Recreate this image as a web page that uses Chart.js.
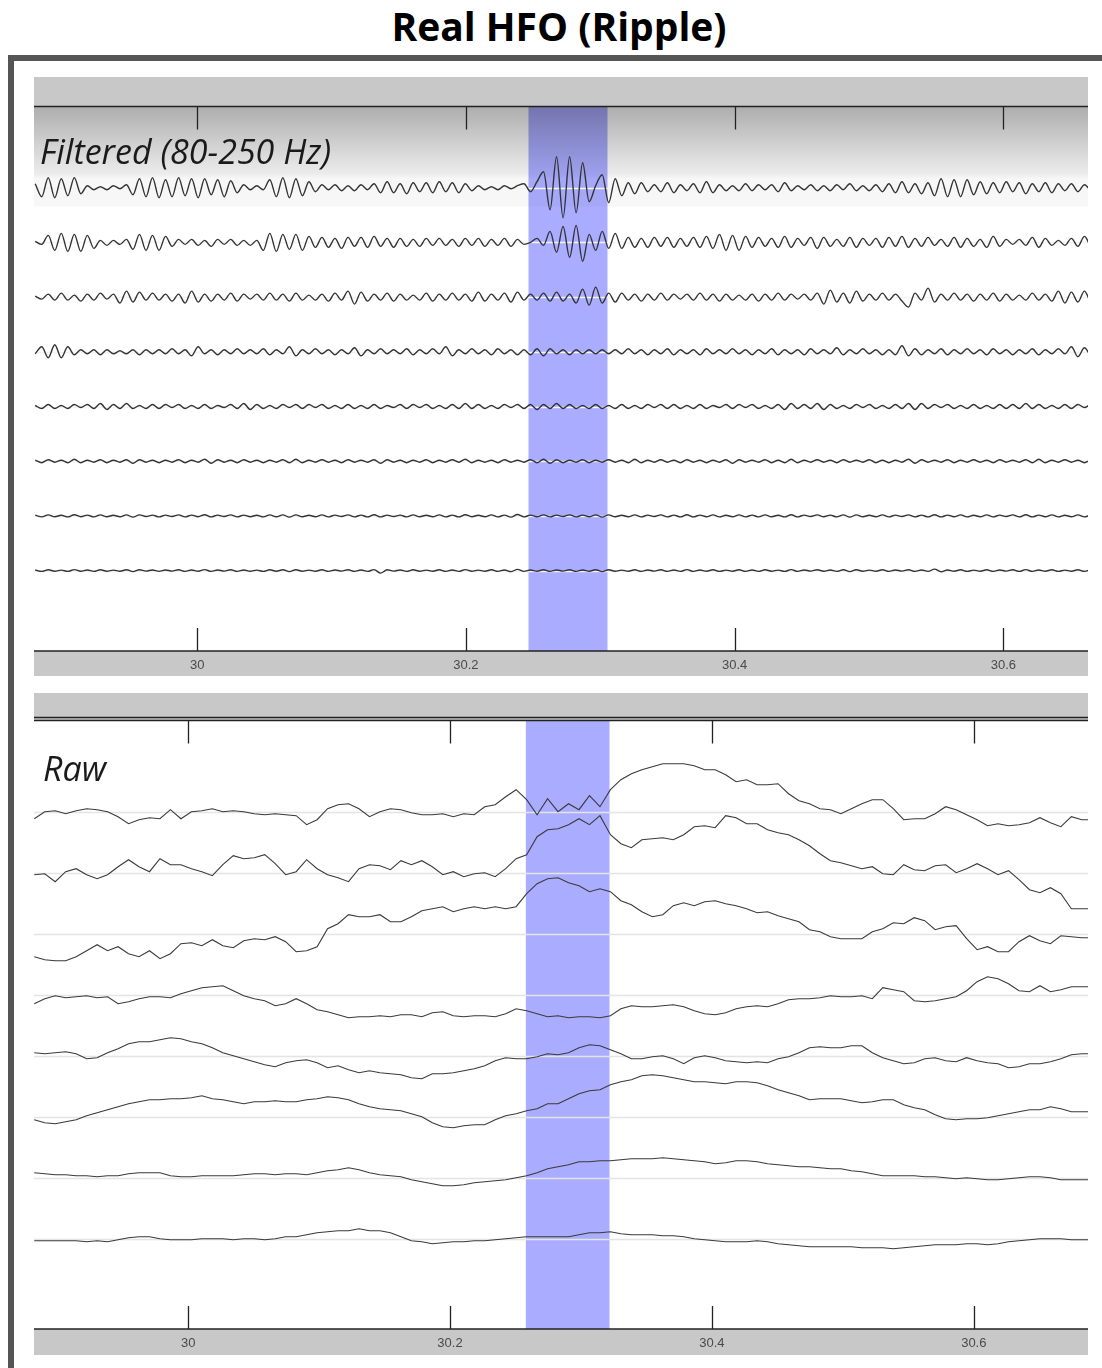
<!DOCTYPE html>
<html>
<head>
<meta charset="utf-8">
<title>Real HFO (Ripple)</title>
<script src="https://cdn.jsdelivr.net/npm/chart.js@4.4.1/dist/chart.umd.min.js"></script>
<style>
  html, body { margin: 0; padding: 0; background: #fff; }
  body { width: 1102px; height: 1368px; position: relative; overflow: hidden; font-family: 'Open Sans', 'Noto Sans', sans-serif; }
  #title { position: absolute; left: 0; top: -1px; width: 1118px; text-align: center; font-weight: 700; font-size: 39px; line-height: 54px; color: #000; }
  #frame { position: absolute; left: 8px; top: 55px; width: 1200px; height: 1400px; border-left: 6px solid #555; border-top: 6px solid #555; }
  canvas { position: absolute; left: 34px; }
  #filteredChart { top: 77px; }
  #rawChart { top: 693px; }
</style>
</head>
<body>
<div id="title">Real HFO (Ripple)</div>
<div id="frame"></div>
<canvas id="filteredChart" width="1054" height="600"></canvas>
<canvas id="rawChart" width="1054" height="663"></canvas>
<script>
// time axis (s)
const xTicks = [30, 30.2, 30.4, 30.6];
const filteredRange = [29.8786, 30.6630];
const rawRange = [29.8823, 30.6872];
const hfoBandFiltered = [30.2466, 30.3054];
const hfoBandRaw = [30.2579, 30.3218];

// filtered 80-250 Hz, one value per half wave
const F_T0 = 29.8795, F_DT = 0.00485;
const filtered1 = [
  4,-9,10,-10,9,-8,10,-6,2,-2, 1,-2,2,-1,3,-7,9,-9,10,-10, 8,-9,10,-8,9,-10,9,-7,8,-9,
  7,-5,3,-2,2,-2,8,-9,10,-10, 9,-8,6,-4,3,-2,3,-3,2,-3, 3,-2,4,-5,6,-5,4,-6,5,-4,
  5,-5,6,-4,5,-5,4,-3,2,-2, 1,-2,2,-1,2,4,-4,6,16,-22, 31,-30,31,-25,25,-14,2,13,-15,9,
  -8,5,-6,5,-4,3,-4,5,-5,3, -3,4,-5,6,-5,3,-3,2,-3,4, -3,3,-2,3,-4,5,-3,2,-2,3,
  -3,2,-3,3,-2,4,-3,2,-3,3, -4,4,-5,6,-5,4,-6,5,-8,9, -9,8,-9,8,-7,6,-6,5,-5,6,
  -4,5,-6,4,-4,5,-5,4,-3,4, -4,3,-2,8
];
const filtered2 = [
  1,-2,7,-8,9,-9,8,-9,7,-6, 2,-3,2,-2,3,-7,8,-8,7,-8, 6,-4,3,-2,3,-3,2,-4,3,-2,
  3,-3,2,-3,2,-8,9,-9,8,-7, 8,-8,6,-5,5,-5,4,-6,5,-4, 5,-5,6,-4,4,-5,4,-4,3,-4,
  4,-3,4,-3,3,-4,4,-3,4,-4, 3,-3,4,-4,3,-2,0,4,-3,11, -10,16,-15,17,-19,8,-8,11,-6,9,
  -6,5,-5,4,-5,5,-4,5,-5,4, -4,5,-5,6,-6,8,-8,7,-8,6, -5,5,-4,4,-5,6,-5,4,-3,5,
  -6,5,-4,3,-4,5,-5,4,-3,4, -5,5,-4,6,-5,4,-4,5,-3,3, -4,5,-5,4,-4,3,-5,6,-4,3,
  -2,3,-3,5,-5,4,-3,2,-3,4, -4,6,-5,-12
];
const filtered3 = [
  1,-2,3,-3,4,-3,2,-4,3,-3,4,-2,3,
  -6,6,-5,5,-3,
  4,-3,3,-4,3,
  -6,6,-5,3,
  -4,3,-3,4,-4,3,-2,3,-3,4,-3,3,-4,4,-3,2,-3,3,-4,4,-3,
  6,-7,5,-4,
  3,-3,4,-4,3,-3,2,-3,4,-4,3,-3,4,-3,3,-4,5,-4,3,-3,4,-5,5,-3,
  3,-3,4,-4,5,-4,3,-6,8,-8,10,-6,4,
  -5,4,-3,3,-4,3,-3,4,-3,3,-2,3,-3,4,-3,3,-4,3,-3,2,-3,3,-4,3,-3,4,-3,3,-2,3,-3,4,
  -7,7,-5,4,-6,6,-4,
  3,-3,4,-3,3,-4,
  -10,4,-3,9,-5,
  3,-3,4,-3,3,-4,3,-3,4,-4,3,-3,2,-3,4,-3,3,-4,
  6,-6,5,-5,6,-4,4
];
const filtered4 = [
  -2,5,-6,7,-6,5,-3,
  2,-2,2,-3,2,-2,1,-2,2,-3,2,-2,2,-2,3,-2,2,
  -4,5,
  -2,2,-3,2,-2,3,-2,2,-2,3,-3,2,-2,
  5,-4,
  2,-2,3,-2,2,-3,2,-2,4,-4,2,-2,3,-2,2,
  -2,3,-3,2,-2,3,-2,
  5,-4,
  2,-2,3,-2,2,-3,3,-2,2,-3,2,
  -3,3,-4,3,-2,2,-3,2,-2,2,-2,2,-2,
  2,-2,3,-2,2,-3,2,-2,3,-3,2,-2,2,-3,3,-2,2,-2,3,-2,2,-3,2,-2,3,-3,2,-2,2,-3,3,-2,2,-2,4,-3,2,-2,3,-2,2,-3,2,
  -3,6,-4,
  3,-3,2,-2,3,-3,2,-2,3,-2,2,-3,3,-2,2,-3,2,-2,3,-3,2,-2,3,-2,
  5,-5,4,-3,3
];
const filtered5 = [
  1,-2,2,-2,1,-2,2,-1,2,-2, 3,-3,2,-2,3,-2,1,-2,2,-2, 2,-1,2,-2,1,-2,2,-2,1,-1,
  2,-2,3,-3,2,-2,1,-2,2,-1, 2,-2,2,-1,2,-2,1,-2,2,-2, 1,-2,2,-2,1,-1,2,-2,2,-1,
  2,-2,1,-2,2,-2,3,-2,2,-2, 1,-2,2,-1,2,-2,2,-3,2,-2, 3,-2,2,-2,1,-2,2,-2,1,-2,
  2,-2,1,-2,2,-1,2,-2,2,-2, 1,-2,2,-2,1,-1,2,-2,2,-1, 2,-2,1,-2,2,-3,3,-2,2,-2,
  3,-3,2,-2,1,-2,2,-1,2,-2, 1,-2,2,-2,3,-3,3,-2,2,-1, 2,-2,1,-2,2,-2,1,-2,2,-2,
  2,-2,3,-2,2,-2,1,-2,2,-2, 2,-1,2,-2,2
];
const filtered6 = [
  1,-1.5,1.5,-1,1,-1.5,2,-1.5,1,-1, 1.5,-1.5,1,-1,1.5,-2,1.5,-1,1,-1.5,
  1,-1,1.5,-1.5,1,-1,2,-2,1.5,-1, 1,-1.5,1.5,-1,1,-1.5,1,-1,1.5,-1.5,
  2,-1.5,1,-1,1.5,-1,1,-1.5,1.5,-1, 1,-1,1.5,-2,1.5,-1,1,-1.5,1,-1,
  1.5,-1.5,1,-1,1.5,-1,2,-1.5,1,-1, 1,-1.5,1.5,-1,1,-1,1.5,-1.5,2,-2,
  1.5,-1.5,1,-1,1.5,-1.5,1,-1,1.5,-1, 1,-1.5,2,-1.5,1,-1,1.5,-1,1,-1.5,
  1.5,-1,1,-1.5,1,-1,1.5,-2,1.5,-1, 1,-1,1.5,-1.5,1,-1.5,2,-1.5,1,-1,
  1.5,-1,1,-1.5,1.5,-1,1,-1,1.5,-1.5, 1,-1.5,1,-1,2,-2,1.5,-1,1,-1,
  1.5,-1.5,1,-1,1.5,-1,1,-1.5,1.5,-1, 1,-1,1.5,-1.5,2,-1.5,1,-1,1.5,-1,
  1,-1.5,1,-1,1.5
];
const filtered7 = [
  0.8,-1,1,-0.8,0.6,-1,1.2,-0.8,0.8,-1, 1,-0.8,0.6,-0.8,1,-1.2,1,-0.6,0.8,-1,
  0.8,-0.6,1,-1,0.8,-0.8,1.2,-1,0.8,-0.6, 1,-1,0.8,-0.8,0.6,-1,1,-0.8,1,-1.2,
  1,-0.8,0.6,-0.8,1,-1,0.8,-0.6,1,-1, 0.8,-1,1.2,-1,0.8,-0.6,0.8,-1,1,-0.8,
  0.6,-0.8,1,-1,0.8,-1,1.2,-0.8,0.6,-0.8, 1,-1,0.8,-1.2,1.4,-1,0.8,-0.8,1,-1,
  0.8,-0.6,1,-1,0.8,-0.8,1,-1.2,1,-0.8, 0.6,-0.8,1,-1,0.8,-0.6,1,-1,0.8,-1,
  1.2,-1,0.8,-0.8,1,-1,0.6,-0.8,1,-1, 0.8,-1,1,-0.8,0.6,-1,1.2,-1,0.8,-0.6,
  1,-0.8,0.8,-1,1,-1.2,1,-0.8,0.6,-0.8, 1,-1,0.8,-0.6,1,-1,0.8,-1,1.2,-1,
  0.8,-0.8,1,-1,0.6,-0.8,1,-1,0.8,-0.6, 1,-1,1.2,-1,0.8,-0.8,1,-1,0.6,-0.8,
  1,-1,0.8,-0.8,1
];
const filtered8 = [
  0.6,-0.8,0.8,-0.6,0.5,-0.8,1,-0.6,0.6,-0.8, 0.8,-0.6,0.5,-0.6,0.8,-1,0.8,-0.5,0.6,-0.8,
  0.6,-0.5,0.8,-0.8,0.6,-0.6,1,-0.8,0.6,-0.5, 0.8,-0.8,0.6,-0.6,0.5,-0.8,0.8,-0.6,0.8,-1,
  0.8,-0.6,0.5,-0.6,0.8,-0.8,0.6,-0.5,0.8,-0.8, 0.6,-0.8,1,-2.5,0.8,-0.5,0.6,-0.8,0.8,-0.6,
  0.5,-0.6,0.8,-0.8,0.6,-0.8,1,-0.6,0.5,-0.6, 0.8,-0.8,0.6,-1,1.2,-0.8,0.6,-0.6,0.8,-0.8,
  0.6,-0.5,0.8,-0.8,0.6,-0.6,0.8,-1,0.8,-0.6, 0.5,-0.6,0.8,-0.8,0.6,-0.5,0.8,-0.8,0.6,-0.8,
  1,-0.8,0.6,-0.6,0.8,-0.8,0.5,-0.6,0.8,-0.8, 0.6,-0.8,0.8,-0.6,0.5,-0.8,1,-0.8,0.6,-0.5,
  0.8,-0.6,0.6,-0.8,0.8,-1,0.8,-0.6,0.5,-0.6, 0.8,-0.8,0.6,-0.5,0.8,-0.8,0.6,-0.8,1.5,-1.2,
  0.6,-0.6,0.8,-0.8,0.5,-0.6,0.8,-0.8,0.6,-0.5, 0.8,-0.8,1,-0.8,0.6,-0.6,0.8,-0.8,0.5,-0.6,
  0.8,-0.8,0.6,-0.6,0.8
];

// raw signal, sampled every 8 ms
const R_T0 = 29.8825, R_DT = 0.008;
const raw1 = [-7,0,1,-2,1,3,2,0,-5,-12, -8,-6,-7,2,-7,0,1,3,0,1, 0,-2,-3,-2,-3,-4,-13,-8,3,7,
  8,3,-5,0,3,2,-1,-3,-3,-2, -5,-2,-3,5,7,15,22,12,-3,13, 0,8,2,16,5,22,32,38,42,45,
  48,48,48,46,42,42,37,30,32,27, 27,28,18,11,8,3,2,-2,3,8, 12,12,3,-8,-7,-7,-2,5,2,-3,
  -8,-14,-12,-14,-13,-11,-6,-11,-15,-5, -8,-8];
const raw2 = [-2,-1,-9,1,4,-2,-6,-2,6,13, 6,1,14,8,8,4,1,-3,8,17, 14,15,18,9,-2,1,13,4,-2,-5,
  -9,4,8,7,3,12,8,12,6,-2, 1,-4,-1,0,-4,4,14,18,36,43, 44,48,54,48,57,38,29,25,33,34,
  35,33,38,46,47,45,57,55,49,49, 43,40,38,33,27,19,12,10,7,4, 6,-1,-2,8,3,2,7,8,0,4,
  9,4,-2,2,-7,-17,-20,-15,-21,-36, -36,-36];
const raw3 = [-23,-26,-27,-27,-23,-17,-11,-17,-13,-20, -23,-17,-25,-20,-10,-9,-12,-6,-12,-14, -7,-5,-6,-3,-8,-18,-17,-13,5,10,
  19,17,17,19,12,12,17,23,25,27, 22,25,27,25,27,25,27,40,50,55, 56,51,48,42,45,42,33,29,22,17,
  19,28,31,28,32,33,30,28,25,21, 22,18,15,12,4,2,-3,-5,-5,-5, 2,5,11,10,16,13,4,7,8,-5,
  -16,-13,-18,-18,-8,-2,-7,-10,-2,-3, -4,-4];
const raw4 = [-9,-4,-1,-3,-2,-1,-3,-2,-9,-7, -4,-2,-2,-3,1,4,7,8,9,4, -1,-4,-6,-11,-9,-4,-9,-15,-17,-20,
  -23,-22,-22,-21,-22,-20,-20,-22,-18,-17, -21,-22,-21,-21,-22,-19,-14,-16,-19,-22, -21,-23,-22,-22,-23,-21,-14,-11,-12,-12,
  -11,-10,-12,-16,-19,-20,-18,-14,-12,-11, -12,-9,-5,-4,-4,-3,-1,-2,-2,-1, -4,7,5,3,-6,-7,-6,-4,-2,4,
  13,18,16,11,4,3,9,3,5,8, 8,8];
const raw5 = [3,2,3,4,2,-3,-2,3,7,12, 14,14,16,18,17,14,12,8,3,0, -3,-6,-9,-11,-7,-5,-4,-7,-12,-10,
  -14,-17,-15,-17,-18,-19,-22,-23,-18,-18, -17,-15,-13,-10,-5,-2,-3,-3,-1,2, 1,3,8,11,10,6,2,-3,-3,-1,
  0,-3,-8,-2,0,-2,-5,-6,-7,-6, -7,-3,-1,3,8,9,8,8,10,10, 3,-2,-5,-8,-7,-3,-2,-5,-6,-2,
  -5,-7,-8,-12,-11,-8,-8,-6,-3,1, 2,2];
const raw6 = [-3,-6,-7,-5,-3,1,4,7,10,13, 15,17,17,18,18,19,21,18,17,15, 13,15,15,16,15,15,17,18,20,19,
  17,13,10,8,7,6,3,0,-6,-10, -11,-9,-8,-8,-3,1,3,6,8,13, 13,18,23,26,27,32,35,37,41,42,
  41,39,37,35,35,34,33,35,35,34, 31,27,24,21,17,18,18,18,16,14, 15,17,17,12,9,7,2,-2,-3,-2,
  -2,-1,1,3,5,7,7,10,8,5, 5,5];
const raw7 = [5,4,3,3,2,2,1,2,2,4, 5,5,5,2,1,1,2,2,2,2, 3,4,4,3,4,4,3,5,7,8,
  10,8,5,3,2,1,-2,-4,-6,-8, -8,-7,-5,-4,-3,-2,0,2,5,9, 11,13,16,16,17,17,18,19,19,19,
  20,19,18,17,16,14,15,17,17,16, 14,13,12,11,11,10,9,9,7,6, 4,2,2,2,2,1,1,0,-1,0,
  -1,-2,-2,-1,0,1,1,0,-2,-2, -2,-2];
const raw8 = [-2,-2,-2,-2,-2,-3,-2,-3,-1,1, 2,2,0,-1,-1,-1,0,0,0,-1, 0,0,-1,0,2,2,4,6,7,8,
  8,10,8,8,6,2,-2,-3,-5,-4, -3,-3,-2,-2,-1,0,1,2,2,2, 2,2,4,6,6,7,5,4,4,4,
  3,3,2,0,-1,-2,-3,-3,-3,-2, -3,-5,-6,-7,-8,-8,-8,-8,-8,-9, -9,-9,-10,-9,-8,-7,-6,-6,-6,-5,
  -5,-6,-5,-3,-2,-1,0,0,0,-1, -1,-1];

const filteredChannels = [filtered1, filtered2, filtered3, filtered4, filtered5, filtered6, filtered7, filtered8];
const rawChannels = [raw1, raw2, raw3, raw4, raw5, raw6, raw7, raw8];

// vertical stacking of channels (px units on each panel's y scale)
const filteredBases = filteredChannels.map((_, k) => 463.3 - 54.7 * k);
const rawBases = rawChannels.map((_, k) => 517.3 - 61 * k);

const panelDecor = {
  id: 'panelDecor',
  beforeDraw(chart, args, opts) {
    const { ctx, chartArea: a, scales: { x, y } } = chart;
    ctx.save();
    ctx.fillStyle = '#c8c8c8';
    ctx.fillRect(a.left, 0, a.width, a.top);
    ctx.fillRect(a.left, a.bottom, a.width, opts.barHeight);
    const b0 = x.getPixelForValue(opts.band[0]);
    const b1 = x.getPixelForValue(opts.band[1]);
    ctx.fillStyle = 'rgb(170,172,255)';
    ctx.fillRect(b0, a.top, b1 - b0, a.height);
    if (opts.shade) {
      const g = ctx.createLinearGradient(0, a.top, 0, a.top + opts.shade);
      g.addColorStop(0, 'rgba(0,0,0,0.32)');
      g.addColorStop(0.68, 'rgba(0,0,0,0.07)');
      g.addColorStop(0.72, 'rgba(0,0,0,0.03)');
      g.addColorStop(1, 'rgba(0,0,0,0.03)');
      ctx.fillStyle = g;
      ctx.fillRect(a.left, a.top, a.width, opts.shade);
    }
    ctx.strokeStyle = opts.baseColor;
    ctx.lineWidth = 1.5;
    opts.bases.forEach(b => {
      const py = Math.round(y.getPixelForValue(b)) + 0.5;
      ctx.beginPath();
      ctx.moveTo(a.left, py);
      ctx.lineTo(a.right, py);
      ctx.stroke();
    });
    ctx.restore();
  },
  afterDatasetsDraw(chart, args, opts) {
    const { ctx, chartArea: a, scales: { x } } = chart;
    ctx.save();
    ctx.strokeStyle = '#222';
    ctx.lineWidth = 1.6;
    const hline = py => {
      ctx.beginPath();
      ctx.moveTo(a.left, py);
      ctx.lineTo(a.right, py);
      ctx.stroke();
    };
    hline(a.top);
    if (opts.doubleTop) hline(a.top - 3);
    hline(a.bottom);
    ctx.lineWidth = 1.3;
    xTicks.forEach(v => {
      const px = Math.round(x.getPixelForValue(v)) + 0.5;
      ctx.beginPath();
      ctx.moveTo(px, a.top);
      ctx.lineTo(px, a.top + 23);
      ctx.moveTo(px, a.bottom);
      ctx.lineTo(px, a.bottom - 23);
      ctx.stroke();
    });
    ctx.fillStyle = '#1a1a1a';
    ctx.font = 'italic 34px "Open Sans", "Noto Sans", sans-serif';
    ctx.textBaseline = 'alphabetic';
    ctx.fillText(opts.label, opts.labelX, opts.labelY);
    ctx.restore();
  }
};

function makePanel(canvasId, channels, bases, t0, dt, range, traceStyle, decor, yMax, barHeight) {
  const datasets = channels.map((vals, k) => ({
    data: vals.map((v, i) => ({ x: t0 + i * dt, y: bases[k] + v })),
    borderColor: traceStyle.color,
    borderWidth: traceStyle.width,
    pointRadius: 0,
    tension: traceStyle.smooth ? 0.4 : 0,
    cubicInterpolationMode: traceStyle.smooth ? 'monotone' : 'default',
    clip: 0
  }));
  return new Chart(document.getElementById(canvasId), {
    type: 'line',
    data: { datasets },
    options: {
      responsive: false,
      animation: false,
      devicePixelRatio: 1,
      layout: { padding: { top: decor.padTop, bottom: 1, left: 0, right: 0 } },
      plugins: {
        legend: { display: false },
        tooltip: { enabled: false },
        panelDecor: Object.assign({ barHeight }, decor)
      },
      scales: {
        x: {
          type: 'linear',
          min: range[0],
          max: range[1],
          afterBuildTicks: s => { s.ticks = xTicks.map(v => ({ value: v })); },
          afterFit: s => { s.height = barHeight; },
          grid: { display: false },
          border: { display: false },
          ticks: {
            autoSkip: false,
            maxRotation: 0,
            padding: -1,
            color: '#4a4a4a',
            font: { family: '"Liberation Sans", Arial, sans-serif', size: 13 },
            callback: v => String(v)
          }
        },
        y: { display: false, min: 0, max: yMax }
      }
    },
    plugins: [panelDecor]
  });
}

makePanel('filteredChart', filteredChannels, filteredBases, F_T0, F_DT, filteredRange,
  { color: '#333', width: 1.4, smooth: true },
  { padTop: 29.5, band: hfoBandFiltered, shade: 100, bases: filteredBases, baseColor: '#f3f3f3',
    label: 'Filtered (80-250 Hz)', labelX: 6, labelY: 87, doubleTop: false },
  544.5, 25);

makePanel('rawChart', rawChannels, rawBases, R_T0, R_DT, rawRange,
  { color: '#3a3a3a', width: 1.1, smooth: false },
  { padTop: 27.5, band: hfoBandRaw, shade: 0, bases: rawBases, baseColor: '#e4e4e4',
    label: 'Raw', labelX: 9, labelY: 87.5, doubleTop: true },
  608.5, 26);
</script>
</body>
</html>
